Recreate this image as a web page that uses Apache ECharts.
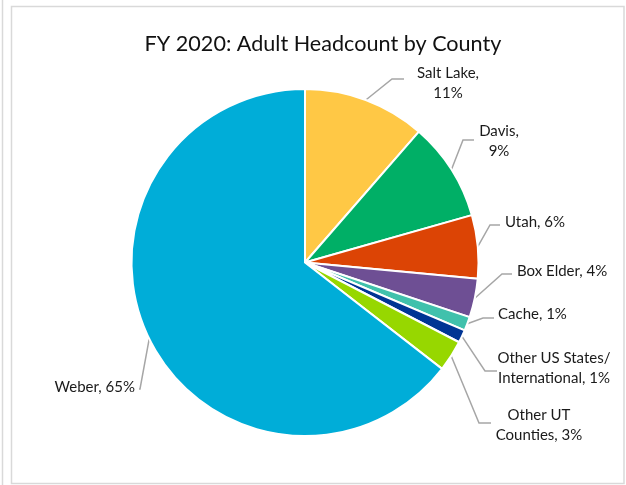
<!DOCTYPE html>
<html>
<head>
<meta charset="utf-8">
<script src="https://cdn.jsdelivr.net/npm/echarts@6/dist/echarts.min.js"></script>
<style>
  html, body { margin: 0; padding: 0; background: #fff; }
  #chart { width: 626px; height: 485px; }
</style>
</head>
<body>
<div id="chart"></div>
<script>
// Adult headcount share by county, FY 2020 (percent of total)
const counties = ['Salt Lake', 'Davis', 'Utah', 'Box Elder', 'Cache',
  'Other US States/\nInternational', 'Other UT\nCounties', 'Weber'];
const shares = [11.4, 9.2, 5.9, 3.6, 1.3, 1.2, 2.9, 64.5];
const sliceColors = ['#FFC845', '#00AF66', '#DC4405', '#6E4F94', '#40C1AC',
  '#003594', '#97D700', '#00ADD8'];

// Label placement: elbow of the leader line, end of its horizontal tail,
// where the text sits and how it is aligned, and whether "name," breaks
// onto its own line before the percentage.
const labelGuides = [
  { elbow: [392, 79], tail: 404, tx: 448, ty: 83, align: 'center', breakAfterName: true },
  { elbow: [463, 140], tail: 474, tx: 499, ty: 141, align: 'center', breakAfterName: true },
  { elbow: [490, 225], tail: 500, tx: 505, ty: 222, align: 'left', breakAfterName: false },
  { elbow: [502, 274], tail: 512, tx: 517, ty: 271, align: 'left', breakAfterName: false },
  { elbow: [483, 318], tail: 494, tx: 498, ty: 314, align: 'left', breakAfterName: false },
  { elbow: [485, 371], tail: 497, tx: 554, ty: 368, align: 'center', breakAfterName: false },
  { elbow: [479, 423], tail: 491, tx: 539, ty: 425, align: 'center', breakAfterName: false },
  { elbow: [140, 389], tail: 139, tx: 135, ty: 387, align: 'right', breakAfterName: false }
];

const chart = echarts.init(document.getElementById('chart'), null, { renderer: 'canvas' });

const FONT = 'Lato, "Open Sans", sans-serif';

chart.setOption({
  animation: false,
  backgroundColor: '#ffffff',
  title: {
    text: 'FY 2020: Adult Headcount by County',
    left: 318,
    top: 28,
    textAlign: 'center',
    textStyle: { fontFamily: FONT, fontSize: 21.6, fontWeight: 'normal', color: '#111' }
  },
  graphic: [
    { type: 'line', shape: { x1: 2.5, y1: 0, x2: 2.5, y2: 485 },
      style: { stroke: '#d9d9d9', lineWidth: 1.5 }, silent: true },
    { type: 'rect', shape: { x: 11.5, y: 6.5, width: 612.5, height: 477 },
      style: { stroke: '#d9d9d9', lineWidth: 1.5, fill: null }, silent: true }
  ],
  series: [{
    type: 'pie',
    center: [305, 262.5],
    radius: 173.5,
    startAngle: 90,
    clockwise: true,
    percentPrecision: 0,
    avoidLabelOverlap: false,
    data: counties.map((name, i) => ({
      name: name,
      value: shares[i],
      itemStyle: { color: sliceColors[i] }
    })),
    itemStyle: { borderColor: '#ffffff', borderWidth: 2 },
    label: {
      show: true,
      position: 'outside',
      fontFamily: FONT,
      fontSize: 15,
      color: '#1a1a1a',
      lineHeight: 20,
      formatter: function (p) {
        const sep = labelGuides[p.dataIndex].breakAfterName ? ',\n' : ', ';
        return p.name + sep + p.percent + '%';
      }
    },
    labelLine: {
      show: true,
      length: 10,
      length2: 10,
      lineStyle: { color: '#a6a6a6', width: 1.5 }
    },
    labelLayout: function (params) {
      const g = labelGuides[params.dataIndex];
      const start = params.labelLinePoints[0];
      return {
        x: g.tx,
        y: g.ty,
        align: g.align,
        verticalAlign: 'middle',
        labelLinePoints: [start, g.elbow, [g.tail, g.elbow[1]]]
      };
    },
    emphasis: { disabled: true }
  }]
});
</script>
</body>
</html>
